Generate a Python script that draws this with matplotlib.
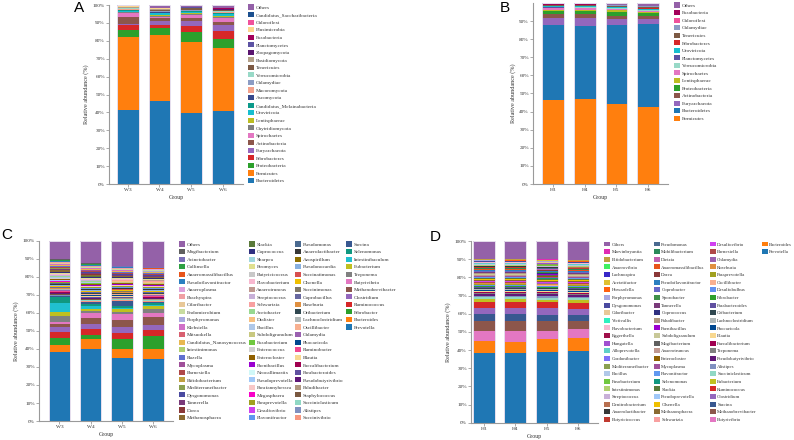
import matplotlib
matplotlib.use("Agg")
import matplotlib.pyplot as plt
import numpy as np
from matplotlib.patches import Patch

plt.rcParams['font.family'] = ['Liberation Serif', 'DejaVu Serif']

# ---------------- panel A : phylum level, W groups (legend order, top of stack first)
a_groups = ['W3', 'W4', 'W5', 'W6']
a_taxa = ['Others', 'Candidatus_Saccharibacteria', 'Chloroflexi', 'Elusimicrobia', 'Fusobacteria',
          'Planctomycetes', 'Zoopagomycota', 'Basidiomycota', 'Tenericutes', 'Verrucomicrobia',
          'Chlamydiae', 'Mucoromycota', 'Ascomycota', 'Candidatus_Melainabacteria', 'Uroviricota',
          'Lentisphaerae', 'Chytridiomycota', 'Spirochaetes', 'Actinobacteria', 'Euryarchaeota',
          'Fibrobacteres', 'Proteobacteria', 'Firmicutes', 'Bacteroidetes']
a_w3 = [0.6, 0.1, 0.1, 0.1, 0.1, 0.1, 0.1, 0.2, 0.5, 0.3, 0.2, 0.2, 0.2, 0.3, 0.6, 0.3, 0.3, 2.4, 3.7, 1.0, 2.8, 3.9, 40.4, 41.5]
a_w4 = [1.7, 0.1, 0.1, 0.1, 0.1, 0.2, 0.1, 0.2, 0.6, 0.3, 0.3, 0.2, 0.2, 0.5, 0.7, 0.6, 0.5, 0.9, 1.5, 2.3, 1.5, 4.1, 36.8, 46.4]
a_w5 = [0.9, 0.1, 0.1, 0.1, 0.1, 0.2, 0.2, 0.2, 0.7, 0.3, 0.2, 0.3, 0.2, 0.4, 0.6, 0.7, 0.5, 1.6, 1.4, 2.7, 3.4, 5.8, 39.8, 39.5]
a_w6 = [1.5, 0.2, 0.1, 0.1, 0.3, 0.2, 0.3, 0.2, 0.7, 0.3, 0.2, 0.3, 0.2, 0.6, 0.8, 0.9, 0.5, 1.9, 1.9, 3.3, 4.5, 4.8, 35.4, 40.8]

# ---------------- panel B : phylum level, H groups
b_groups = ['H3', 'H4', 'H5', 'H6']
b_taxa = ['Others', 'Fusobacteria', 'Chloroflexi', 'Chlamydiae', 'Tenericutes', 'Fibrobacteres',
          'Uroviricota', 'Planctomycetes', 'Verrucomicrobia', 'Spirochaetes', 'Lentisphaerae',
          'Proteobacteria', 'Actinobacteria', 'Euryarchaeota', 'Bacteroidetes', 'Firmicutes']
b_h3 = [0.7, 0.2, 0.1, 0.2, 0.4, 0.3, 0.4, 0.2, 0.4, 0.8, 0.6, 2.0, 1.9, 4.0, 41.4, 46.4]
b_h4 = [0.7, 0.2, 0.1, 0.2, 0.4, 0.2, 0.4, 0.2, 0.4, 0.9, 0.6, 1.8, 2.1, 4.4, 40.5, 46.9]
b_h5 = [0.9, 0.2, 0.1, 0.3, 0.5, 0.4, 0.3, 0.2, 0.4, 0.6, 0.8, 2.3, 1.9, 3.3, 43.6, 44.2]
b_h6 = [1.4, 0.3, 0.1, 0.2, 0.6, 0.6, 0.4, 0.2, 0.5, 0.8, 0.7, 1.2, 1.9, 2.8, 45.8, 42.5]

# ---------------- panel C : genus level, W groups
c_groups = ['W3', 'W4', 'W5', 'W6']
c_taxa = ['Others', 'Mogibacterium', 'Acinetobacter', 'Collinsella', 'Anaeromassilibacillus',
          'Pseudoflavonifractor', 'Anaeroplasma', 'Brachyspira', 'Odoribacter', 'Endomicrobium',
          'Porphyromonas', 'Klebsiella', 'Mitsuokella', 'Candidatus_Nanosyncoccus', 'Intestinimonas',
          'Rozella', 'Mycoplasma', 'Barnesiella', 'Bifidobacterium', 'Mediterraneibacter',
          'Dysgonomonas', 'Tannerella', 'Dorea', 'Methanosphaera',
          'Slackia', 'Coprococcus', 'Sharpea', 'Piromyces', 'Butyricicoccus', 'Flavobacterium',
          'Anaerotruncus', 'Streptococcus', 'Schwartzia', 'Acetobacter', 'Dialister', 'Bacillus',
          'Subdoligranulum', 'Fusobacterium', 'Enterococcus', 'Enterocloster', 'Paenibacillus',
          'Neocallimastix', 'Pseudoprevotella', 'Parafannyhessea', 'Megasphaera', 'Paraprevotella',
          'Desulfovibrio', 'Flavonifractor',
          'Pseudomonas', 'Anaerolactibacter', 'Azospirillum', 'Pseudonocardia', 'Succinatimonas',
          'Olsenella', 'Succinimonas', 'Coprobacillus', 'Roseburia', 'Oribacterium',
          'Lachnoclostridium', 'Oscillibacter', 'Chlamydia', 'Phocaeicola', 'Ruminobacter', 'Blautia',
          'Faecalibacterium', 'Parabacteroides', 'Pseudobutyrivibrio', 'Paludibacter',
          'Staphylococcus', 'Succiniclasticum', 'Alistipes', 'Succinivibrio',
          'Sarcina', 'Selenomonas', 'Intestinibaculum', 'Eubacterium', 'Treponema', 'Butyrivibrio',
          'Methanobrevibacter', 'Clostridium', 'Ruminococcus', 'Fibrobacter', 'Bacteroides', 'Prevotella']
c_w3 = [10.0, 0.6, 0.2, 0.3, 0.2, 0.3, 0.2, 0.4, 0.3, 0.3, 0.2, 0.3, 0.2, 0.2, 0.3, 0.2, 0.3, 0.3, 0.4, 0.2, 0.3, 0.3, 0.3, 0.8,
        0.3, 0.3, 0.2, 0.4, 0.3, 0.2, 0.3, 0.2, 0.3, 0.2, 0.3, 0.2, 0.3, 0.2, 0.2, 0.4, 0.2, 0.2, 0.2, 0.2, 0.6, 0.3, 0.2, 0.3,
        0.3, 0.4, 0.3, 0.3, 0.3, 0.3, 0.3, 0.3, 0.3, 0.3, 0.3, 0.3, 0.3, 0.3, 0.2, 0.3, 0.3, 0.3, 0.3, 0.3, 0.3, 0.3, 0.2, 0.3,
        0.6, 3.3, 5.0, 1.9, 3.3, 1.5, 1.7, 2.7, 3.4, 3.7, 3.7, 38.5]
c_w4 = [12.4, 0.3, 0.2, 0.3, 0.2, 0.4, 0.3, 0.3, 0.3, 0.3, 0.2, 0.3, 0.2, 0.2, 0.3, 0.2, 0.3, 0.3, 0.3, 0.2, 0.3, 0.4, 0.9, 0.4,
        0.3, 0.8, 0.2, 0.3, 0.3, 0.2, 0.3, 0.3, 0.3, 0.2, 0.3, 0.2, 0.4, 0.2, 0.2, 0.5, 0.3, 0.2, 0.2, 0.2, 0.3, 0.3, 0.2, 0.3,
        0.3, 0.3, 0.3, 0.3, 0.3, 0.2, 0.3, 0.3, 0.3, 0.3, 0.3, 0.3, 0.3, 0.3, 0.2, 0.3, 0.3, 0.3, 0.5, 0.3, 0.6, 0.3, 0.2, 0.3,
        1.0, 1.3, 1.5, 1.5, 0.7, 3.0, 3.1, 2.8, 3.7, 1.9, 5.9, 40.0]
c_w5 = [13.7, 0.3, 0.2, 0.3, 0.2, 0.3, 0.2, 0.3, 0.3, 0.3, 0.2, 0.3, 0.2, 0.2, 0.3, 0.2, 0.3, 0.3, 0.3, 0.2, 0.3, 0.3, 0.3, 0.3,
        0.3, 0.3, 0.2, 0.3, 0.3, 0.2, 0.3, 0.2, 0.3, 0.2, 0.3, 0.2, 0.3, 0.2, 0.2, 0.3, 0.3, 0.2, 0.2, 0.2, 0.3, 0.3, 0.2, 0.3,
        0.3, 0.3, 0.2, 0.2, 0.3, 0.8, 0.3, 0.3, 0.3, 0.3, 0.3, 0.3, 0.3, 0.3, 0.3, 0.3, 0.3, 0.3, 0.3, 0.2, 0.3, 0.3, 0.2, 0.6,
        2.5, 1.0, 0.8, 1.5, 1.4, 3.2, 3.7, 3.3, 3.5, 5.6, 5.2, 34.8]
c_w6 = [14.3, 0.3, 0.2, 0.3, 0.3, 0.3, 0.2, 0.3, 0.2, 0.3, 0.3, 0.3, 0.2, 0.2, 0.3, 0.2, 0.3, 0.2, 0.3, 0.2, 0.3, 0.3, 0.3, 0.3,
        0.3, 0.3, 0.2, 0.3, 0.2, 0.2, 0.3, 0.3, 0.3, 0.2, 0.3, 0.2, 0.3, 0.2, 0.2, 0.3, 0.3, 0.2, 0.2, 0.3, 0.3, 0.3, 0.2, 0.2,
        0.3, 0.3, 0.3, 0.3, 0.3, 0.3, 0.3, 0.3, 0.3, 0.3, 0.3, 0.3, 0.3, 0.5, 0.2, 0.3, 0.3, 0.3, 0.4, 0.3, 0.3, 0.3, 0.2, 0.3,
        1.0, 0.8, 0.8, 1.3, 2.2, 2.4, 4.3, 3.1, 3.4, 7.2, 5.2, 34.8]

# ---------------- panel D : genus level, H groups
d_groups = ['H3', 'H4', 'H5', 'H6']
d_taxa = ['Others', 'Marvinbryantia', 'Bifidobacterium', 'Anaerovibrio', 'Lachnospira', 'Acetatifactor',
          'Howardella', 'Porphyromonas', 'Dysgonomonas', 'Odoribacter', 'Victivallis', 'Flavobacterium',
          'Eggerthella', 'Hungatella', 'Alloprevotella', 'Gordonibacter', 'Mediterraneibacter', 'Bacillus',
          'Fusobacterium', 'Intestinimonas', 'Streptococcus', 'Denitrobacterium', 'Anaerolactibacter',
          'Butyricicoccus',
          'Pseudomonas', 'Mobilibacterium', 'Dietzia', 'Anaeromassilibacillus', 'Dorea',
          'Pseudoflavonifractor', 'Coprobacter', 'Sporobacter', 'Tannerella', 'Coprococcus', 'Paludibacter',
          'Paenibacillus', 'Subdoligranulum', 'Mogibacterium', 'Anaerotruncus', 'Enterocloster', 'Mycoplasma',
          'Flavonifractor', 'Selenomonas', 'Slackia', 'Pseudoprevotella', 'Olsenella', 'Methanosphaera',
          'Schwartzia',
          'Desulfovibrio', 'Barnesiella', 'Chlamydia', 'Roseburia', 'Paraprevotella', 'Oscillibacter',
          'Desulfobulbus', 'Fibrobacter', 'Parabacteroides', 'Oribacterium', 'Lachnoclostridium',
          'Phocaeicola', 'Blautia', 'Faecalibacterium', 'Treponema', 'Pseudobutyrivibrio', 'Alistipes',
          'Succiniclasticum', 'Eubacterium', 'Ruminococcus', 'Clostridium', 'Sarcina',
          'Methanobrevibacter', 'Butyrivibrio',
          'Bacteroides', 'Prevotella']
d_h3 = [9.9, 0.1, 0.2, 0.1, 0.1, 0.2, 0.1, 0.3, 0.3, 0.3, 0.1, 0.2, 0.1, 0.2, 0.2, 0.1, 0.3, 0.2, 0.2, 0.3, 0.3, 0.2, 0.3, 0.4,
        0.3, 0.2, 0.2, 0.3, 0.4, 0.4, 0.3, 0.3, 0.4, 0.3, 0.3, 0.2, 0.3, 0.3, 0.3, 0.3, 0.3, 0.3, 0.3, 0.4, 0.3, 0.4, 0.4, 0.3,
        0.3, 0.4, 0.3, 0.4, 0.4, 0.4, 0.3, 0.5, 0.5, 0.5, 0.5, 0.6, 0.5, 0.6, 0.6, 1.0, 0.8, 1.0, 1.7, 3.3, 3.5, 3.6, 5.7, 5.5,
        6.5, 38.4]
d_h4 = [9.9, 0.2, 0.2, 0.1, 0.1, 0.2, 0.1, 0.3, 0.2, 0.3, 0.1, 0.2, 0.1, 0.2, 0.2, 0.1, 0.3, 0.2, 0.2, 0.3, 0.3, 0.2, 0.3, 0.4,
        0.3, 0.2, 0.2, 0.3, 0.4, 0.5, 0.3, 0.3, 0.3, 0.3, 0.3, 0.2, 0.3, 0.3, 0.3, 0.3, 0.3, 0.3, 0.3, 0.4, 0.3, 0.4, 0.4, 0.3,
        0.3, 0.4, 0.3, 0.4, 0.4, 0.4, 0.3, 0.5, 0.5, 0.5, 0.5, 0.6, 0.5, 0.6, 0.6, 1.0, 0.8, 1.0, 1.7, 3.3, 3.5, 3.6, 5.7, 5.9,
        6.1, 38.4]
d_h5 = [10.1, 0.1, 0.2, 0.2, 0.1, 0.2, 0.1, 0.3, 0.3, 0.3, 0.1, 0.2, 0.1, 0.2, 0.2, 0.1, 0.3, 0.2, 0.2, 0.3, 0.3, 0.2, 0.3, 0.4,
        0.3, 0.2, 0.2, 0.3, 0.4, 0.4, 0.3, 0.3, 0.4, 0.3, 0.3, 0.2, 0.3, 0.3, 0.3, 0.4, 0.3, 0.3, 0.3, 0.4, 0.3, 0.4, 0.4, 0.3,
        0.3, 0.4, 0.3, 0.4, 0.4, 0.4, 0.3, 0.5, 0.5, 0.5, 0.5, 0.6, 0.5, 0.6, 0.6, 1.0, 0.8, 1.0, 1.6, 3.3, 3.7, 3.3, 5.5, 4.6,
        6.8, 39.0]
d_h6 = [10.5, 0.1, 0.2, 0.1, 0.1, 0.2, 0.1, 0.3, 0.3, 0.3, 0.1, 0.2, 0.1, 0.2, 0.2, 0.1, 0.3, 0.2, 0.2, 0.3, 0.3, 0.2, 0.3, 0.4,
        0.3, 0.2, 0.2, 0.3, 0.4, 0.4, 0.3, 0.3, 0.4, 0.3, 0.3, 0.2, 0.3, 0.3, 0.3, 0.3, 0.3, 0.3, 0.3, 0.4, 0.3, 0.4, 0.4, 0.3,
        0.3, 0.4, 0.3, 0.4, 0.4, 0.4, 0.3, 0.5, 0.5, 0.5, 0.5, 0.7, 0.5, 0.6, 0.6, 0.9, 0.8, 0.9, 1.8, 3.1, 3.3, 3.7, 4.4, 4.8,
        7.4, 39.3]

# colours per taxon
colors = {
    'Others': '#9461a8', 'Candidatus_Saccharibacteria': '#1b4f8f', 'Chloroflexi': '#f0529c',
    'Elusimicrobia': '#fdd58e', 'Fusobacteria': '#a3005a', 'Planctomycetes': '#5c52a3',
    'Zoopagomycota': '#5a1670', 'Basidiomycota': '#b3a088', 'Tenericutes': '#7d5a44',
    'Verrucomicrobia': '#98d9c7', 'Chlamydiae': '#8c9cc4', 'Mucoromycota': '#f3a18b',
    'Ascomycota': '#37488c', 'Candidatus_Melainabacteria': '#0b9a8a', 'Uroviricota': '#17becf',
    'Lentisphaerae': '#bcbd22', 'Chytridiomycota': '#7f7f7f', 'Spirochaetes': '#e377c2',
    'Actinobacteria': '#8c564b', 'Euryarchaeota': '#9467bd', 'Fibrobacteres': '#d62728',
    'Proteobacteria': '#2ca02c', 'Firmicutes': '#ff7f0e', 'Bacteroidetes': '#1f77b4',
    # genera
    'Mogibacterium': '#5f5f5f', 'Acinetobacter': '#7a6fb8', 'Collinsella': '#2ea043',
    'Anaeromassilibacillus': '#e8541a', 'Pseudoflavonifractor': '#2b7fc0', 'Anaeroplasma': '#dca0dc',
    'Brachyspira': '#f0a0a4', 'Odoribacter': '#e8c898', 'Endomicrobium': '#c8dca0',
    'Porphyromonas': '#a8a8e0', 'Klebsiella': '#d070c8', 'Mitsuokella': '#d86070',
    'Candidatus_Nanosyncoccus': '#e8b850', 'Intestinimonas': '#b0d070', 'Rozella': '#6070d0',
    'Mycoplasma': '#a0509a', 'Barnesiella': '#b04848', 'Bifidobacterium': '#c0a040',
    'Mediterraneibacter': '#8aa050', 'Dysgonomonas': '#4a4aa0', 'Tannerella': '#7a3a7a',
    'Dorea': '#8a3838', 'Methanosphaera': '#8a6a30',
    'Slackia': '#5a7a3a', 'Coprococcus': '#303080', 'Sharpea': '#a0d8e0', 'Piromyces': '#e0e090',
    'Butyricicoccus': '#c8c8c8', 'Flavobacterium': '#f8b8d0', 'Anaerotruncus': '#c09890',
    'Streptococcus': '#c8b0d8', 'Schwartzia': '#f8a0a0', 'Acetobacter': '#98d890', 'Dialister': '#f8c080',
    'Bacillus': '#b0c8e8', 'Subdoligranulum': '#c8c880', 'Fusobacterium': '#70c840',
    'Enterococcus': '#d0d0d0', 'Enterocloster': '#906000', 'Paenibacillus': '#9a00d0',
    'Neocallimastix': '#d0f8f8', 'Pseudoprevotella': '#a0c8f8', 'Parafannyhessea': '#f8c8c8',
    'Megasphaera': '#f800c8', 'Paraprevotella': '#a0a020', 'Desulfovibrio': '#d040f0',
    'Flavonifractor': '#6098f0',
    'Pseudomonas': '#4a6a90', 'Anaerolactibacter': '#383838', 'Azospirillum': '#907000',
    'Pseudonocardia': '#88b0e0', 'Succinatimonas': '#d85050', 'Olsenella': '#f0c000',
    'Succinimonas': '#807868', 'Coprobacillus': '#6868a0', 'Roseburia': '#e09040',
    'Oribacterium': '#304850', 'Lachnoclostridium': '#b0b8b8', 'Oscillibacter': '#f8b090',
    'Chlamydia': '#9a60b0', 'Phocaeicola': '#004890', 'Ruminobacter': '#f04890', 'Blautia': '#f8d890',
    'Faecalibacterium': '#a00050', 'Parabacteroides': '#6050a0', 'Pseudobutyrivibrio': '#601878',
    'Paludibacter': '#b09880', 'Staphylococcus': '#7a5840', 'Succiniclasticum': '#90d8c4',
    'Alistipes': '#8090c0', 'Succinivibrio': '#f89880',
    'Sarcina': '#385890', 'Selenomonas': '#109880', 'Intestinibaculum': '#20c0d0',
    'Eubacterium': '#c0c020', 'Treponema': '#808080', 'Butyrivibrio': '#e377c2',
    'Methanobrevibacter': '#8c564b', 'Clostridium': '#9467bd', 'Ruminococcus': '#d62728',
    'Fibrobacter': '#2ca02c', 'Bacteroides': '#ff7f0e', 'Prevotella': '#1f77b4',
    'Marvinbryantia': '#e02cb4', 'Anaerovibrio': '#40f060', 'Lachnospira': '#3828c8',
    'Acetatifactor': '#e0c030', 'Howardella': '#ff6010', 'Victivallis': '#30f0c0',
    'Eggerthella': '#a0104a', 'Hungatella': '#a050d0', 'Alloprevotella': '#60d0c8',
    'Gordonibacter': '#8070f8', 'Denitrobacterium': '#b87050', 'Mobilibacterium': '#2a8a5a',
    'Dietzia': '#c060b0', 'Coprobacter': '#6868c8', 'Sporobacter': '#40904a',
    'Desulfobulbus': '#6090f0',
}
d_override = {'Butyricicoccus': '#c03a30', 'Subdoligranulum': '#c8c898'}

# legend sizing: (fontsize, handle size, labelspacing, columnspacing)
leg_normal = (3.8, 1.1, 0.42, 0.45)
leg_small = (3.55, 1.18, 0.5, 1.0)


def rect(l, r, t, b):
    return [l / 794, 1 - b / 440, (r - l) / 794, (b - t) / 440]


def panel(fig, box, groups, taxa, table, pal, ticks, left, letter, lpos, leg_at, ncol, nrow, leg):
    ax = fig.add_axes(rect(*box))
    data = np.array(table, dtype=float)
    data = data / data.sum(axis=1, keepdims=True) * 100
    x = np.arange(len(groups))
    base = np.zeros(len(groups))
    for i in range(len(taxa) - 1, -1, -1):
        ax.bar(x, data[:, i], width=0.69, bottom=base, color=pal.get(taxa[i], colors[taxa[i]]), linewidth=0)
        base += data[:, i]
    ax.bar(x, base, width=0.69, fill=False, edgecolor='#e6dfee', linewidth=0.7)
    ax.set_xlim(left, 3.63)
    ax.set_ylim(0, 100)
    ax.set_xticks(x, groups)
    ax.set_yticks(ticks, [f'{t}%' for t in ticks])
    for s in ['top', 'right']:
        ax.spines[s].set_visible(False)
    for s in ['left', 'bottom']:
        ax.spines[s].set_color('#9a9a9a')
        ax.spines[s].set_linewidth(0.8)
    ax.tick_params(labelsize=3.8, length=2, width=0.5, color='#888888', pad=1, labelcolor='#333333')
    ax.set_ylabel('Relative abundance (%)', fontsize=4.4, labelpad=2.5, color='#333333')
    ax.set_xlabel('Group', fontsize=4.2, labelpad=2, color='#333333')

    handles = [Patch(facecolor=pal.get(t, colors[t]), edgecolor='none') for t in taxa]
    labels = list(taxa)
    while len(handles) < ncol * nrow:
        handles.append(Patch(facecolor='none', edgecolor='none'))
        labels.append('')
    fs, hs, ls, cs = leg
    fig.legend(handles, labels, loc='upper left', bbox_to_anchor=(leg_at[0] / 794, 1 - leg_at[1] / 440),
               ncols=ncol, frameon=False, fontsize=fs, handlelength=hs, handleheight=hs,
               handletextpad=0.35, labelspacing=ls, columnspacing=cs, borderpad=0, borderaxespad=0,
               labelcolor='#333333')
    fig.text(lpos[0] / 794, 1 - lpos[1] / 440, letter, ha='center', va='center', fontsize=11,
             family='Liberation Sans')
    return ax


fig = plt.figure(figsize=(7.94, 4.40), dpi=100)

panel(fig, (109, 243, 5, 184), a_groups, a_taxa, [a_w3, a_w4, a_w5, a_w6], {},
      list(range(0, 101, 10)), -0.59, 'A', (79, 7.5), (248, 4.5), 1, 24, leg_normal)
panel(fig, (533, 668, 3, 184), b_groups, b_taxa, [b_h3, b_h4, b_h5, b_h6], {},
      list(range(0, 91, 10)), -0.64, 'B', (505, 8.3), (674, 2.5), 1, 16, leg_normal)
panel(fig, (39, 173, 241, 421), c_groups, c_taxa, [c_w3, c_w4, c_w5, c_w6], {},
      list(range(0, 101, 10)), -0.65, 'C', (7, 235.3), (179, 241.5), 4, 24, leg_normal)
panel(fig, (471, 598, 241, 422.7), d_groups, d_taxa, [d_h3, d_h4, d_h5, d_h6], d_override,
      list(range(0, 101, 10)), -0.41, 'D', (435, 237), (604, 241.5), 4, 24, leg_small)

fig.savefig('out.png', dpi=100)
